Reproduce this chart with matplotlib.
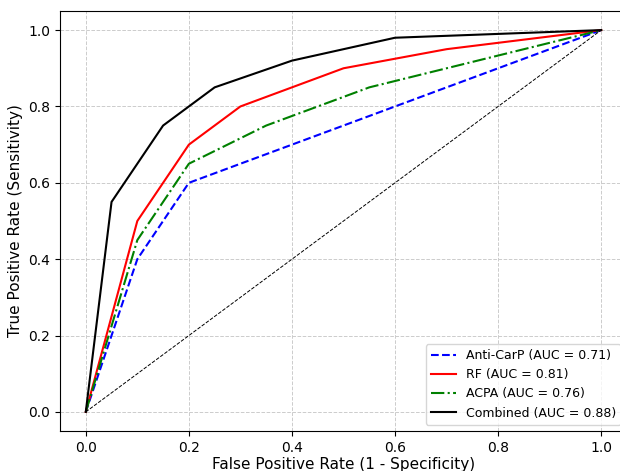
import matplotlib
matplotlib.use("Agg")
import matplotlib.pyplot as plt

# ROC points
fpr_carp = [0.0, 0.1, 0.2, 1.0]
tpr_carp = [0.0, 0.4, 0.6, 1.0]
fpr_rf = [0.0, 0.1, 0.2, 0.3, 0.5, 0.7, 1.0]
tpr_rf = [0.0, 0.5, 0.7, 0.8, 0.9, 0.95, 1.0]
fpr_acpa = [0.0, 0.1, 0.2, 0.35, 0.55, 1.0]
tpr_acpa = [0.0, 0.45, 0.65, 0.75, 0.85, 1.0]
fpr_comb = [0.0, 0.05, 0.15, 0.25, 0.4, 0.6, 1.0]
tpr_comb = [0.0, 0.55, 0.75, 0.85, 0.92, 0.98, 1.0]
labels = ["Anti-CarP (AUC = 0.71)", "RF (AUC = 0.81)",
          "ACPA (AUC = 0.76)", "Combined (AUC = 0.88)"]

fig = plt.figure(figsize=(6.2, 4.71), dpi=100)
ax = fig.add_axes([60/620, 40/471, 567/620, 420/471])

ax.plot(fpr_carp, tpr_carp, "b--", lw=1.5, label=labels[0])
ax.plot(fpr_rf, tpr_rf, "r-", lw=1.5, label=labels[1])
ax.plot(fpr_acpa, tpr_acpa, "g-.", lw=1.5, label=labels[2])
ax.plot(fpr_comb, tpr_comb, "k-", lw=1.5, label=labels[3])
ax.plot([0, 1], [0, 1], "k--", lw=0.7)

ax.set_xlim(-0.05, 1.05)
ax.set_ylim(-0.05, 1.05)
ax.set_xlabel("False Positive Rate (1 - Specificity)", fontsize=11, labelpad=2)
ax.set_ylabel("True Positive Rate (Sensitivity)", fontsize=11)
ax.tick_params(labelsize=10)
ax.grid(True, linestyle="--", color="#cccccc", linewidth=0.7)
ax.legend(loc="lower right", fontsize=9)

fig.savefig("out.png", dpi=100)
